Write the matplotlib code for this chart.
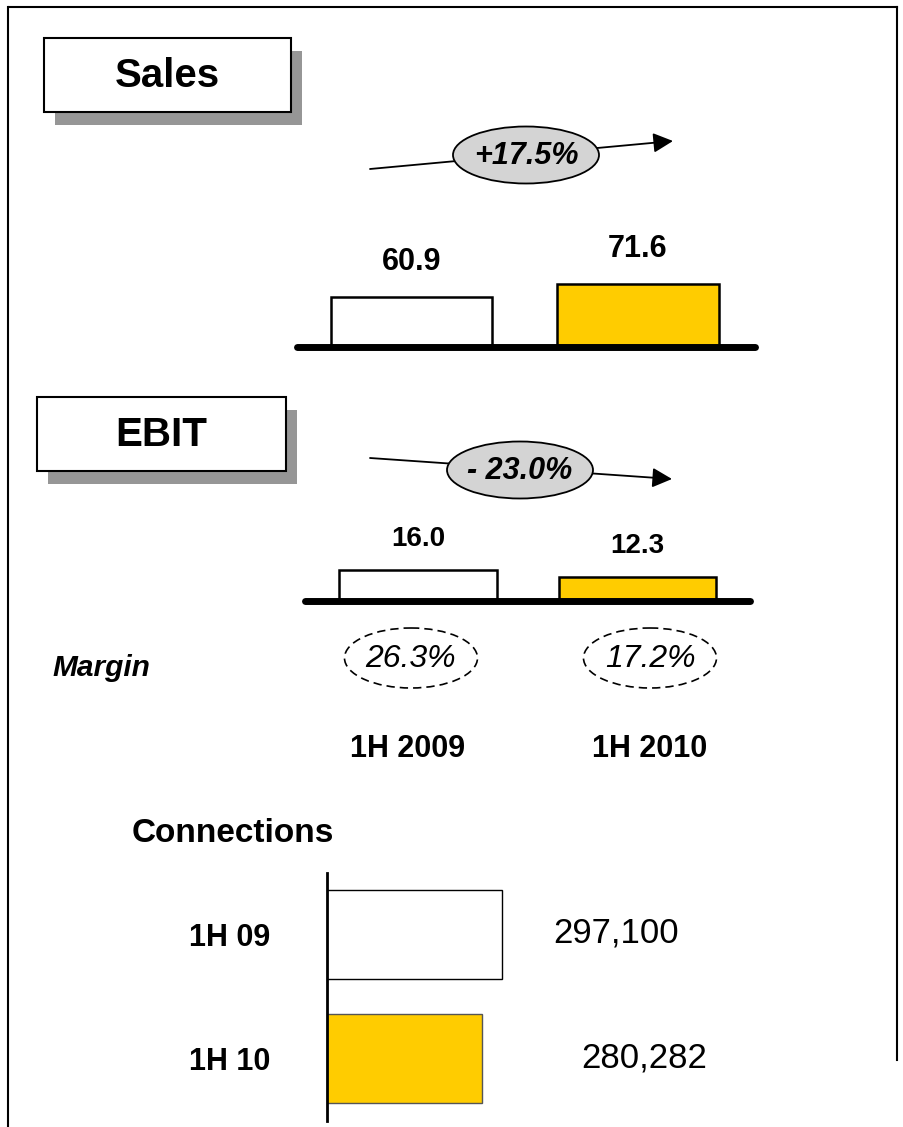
import matplotlib.pyplot as plt
from matplotlib.patches import Rectangle, Ellipse

W, H = 904, 1127

periods = ["1H 2009", "1H 2010"]
sales = [60.9, 71.6]
ebit = [16.0, 12.3]
sales_change = "+17.5%"
ebit_change = "- 23.0%"
margins = ["26.3%", "17.2%"]
conn_labels = ["1H 09", "1H 10"]
connections = [297100, 280282]
fills = ["white", "#FFCC00"]

plt.rcParams['font.family'] = ['Liberation Sans', 'DejaVu Sans']
fig = plt.figure(figsize=(W / 100, H / 100), dpi=100)


def rect(x0, y0, x1, y1):
    # pixel box -> figure fraction
    return [x0 / W, 1 - y1 / H, (x1 - x0) / W, (y1 - y0) / H]


# background layer in pixel coordinates for the boxes, arrows, ellipses
bg = fig.add_axes([0, 0, 1, 1])
bg.set_xlim(0, W)
bg.set_ylim(H, 0)
bg.axis("off")

# frame
bg.plot([9, 897], [7, 7], color="black", lw=1.5)
bg.plot([8, 8], [7, H], color="black", lw=1.5)
bg.plot([897, 897], [7, 1060], color="black", lw=1.5)


def title_box(x0, y0, x1, y1, text):
    bg.add_patch(Rectangle((x0 + 11, y0 + 13), x1 - x0, y1 - y0, color="#969696", lw=0))
    bg.add_patch(Rectangle((x0, y0), x1 - x0, y1 - y0, facecolor="white", edgecolor="black", lw=1.5))
    bg.text((x0 + x1) / 2, (y0 + y1) / 2 + 1, text, ha="center", va="center",
            fontsize=29, fontweight="bold")


title_box(44, 38, 291, 112, "Sales")
title_box(37, 397, 286, 471, "EBIT")


def change_arrow(start, tip, center, text):
    bg.annotate("", xy=tip, xytext=start,
                arrowprops=dict(arrowstyle="-|>,head_length=0.6,head_width=0.3",
                                color="black", lw=1.3, shrinkA=0, shrinkB=0,
                                mutation_scale=20))
    bg.add_patch(Ellipse(center, 146, 57, facecolor="#D4D4D4", edgecolor="black", lw=1.3, zorder=3))
    bg.text(center[0], center[1] + 1, text, ha="center", va="center", fontsize=22,
            fontweight="bold", fontstyle="italic", zorder=4)


change_arrow((370, 169), (673, 141), (526, 155), sales_change)
change_arrow((370, 458), (672, 479), (520, 470), ebit_change)

# margins
bg.text(52, 668, "Margin", ha="left", va="center", fontsize=21.5, fontweight="bold", fontstyle="italic")
for cx, m in zip([411, 650], margins):
    bg.add_patch(Ellipse((cx, 658), 133, 60, facecolor="none", edgecolor="black",
                         lw=1.2, linestyle=(0, (5, 3))))
    bg.text(cx, 659, m, ha="center", va="center", fontsize=23, fontstyle="italic")

for cx, p in zip([408, 650], periods):
    bg.text(cx, 749, p, ha="center", va="center", fontsize=22, fontweight="bold")

bg.text(132, 833, "Connections", ha="left", va="center", fontsize=24, fontweight="bold")


def bar_panel(box, vals, ylim, xlim, width, offset, fs):
    ax = fig.add_axes(rect(*box))
    ax.patch.set_alpha(0)
    ax.bar(range(len(vals)), vals, width=width, color=fills, edgecolor="black", linewidth=1.8)
    ax.set_xlim(xlim)
    ax.set_ylim(ylim)
    for s in ["top", "right", "left"]:
        ax.spines[s].set_visible(False)
    ax.spines["bottom"].set_linewidth(5)
    ax.spines["bottom"].set_capstyle("round")
    ax.set_xticks([])
    ax.set_yticks([])
    for i, v in enumerate(vals):
        ax.annotate(f"{v:.1f}", (i, v), xytext=(0, offset), textcoords="offset pixels",
                    ha="center", va="center", fontsize=fs, fontweight="bold")
    return ax


bar_panel((297, 230, 755, 346.5), sales, (19, 117), (-0.5055, 1.5166), 0.711, 35, 22)
bar_panel((305, 520, 750, 600.7), ebit, (0, 42.5), (-0.515, 1.5125), 0.718, 31, 20)

# connections, horizontal bars
ax = fig.add_axes(rect(327, 873, 800, 1121))
ax.patch.set_alpha(0)
ax.barh(range(len(connections)), connections, height=0.71, color=fills,
        edgecolor=["black", "#555555"], linewidth=1)
ax.set_ylim(1.504, -0.496)
ax.set_xlim(149950, 149950 + 473 / 0.001189)
for s in ["top", "right", "bottom"]:
    ax.spines[s].set_visible(False)
ax.spines["left"].set_linewidth(2)
ax.set_xticks([])
ax.set_yticks(range(len(conn_labels)), conn_labels, fontsize=22, fontweight="bold")
ax.tick_params(axis="y", length=0, pad=41)

for cx, cy, v in zip([616, 644], [933, 1058], connections):
    bg.text(cx, cy, f"{v:,}", ha="center", va="center", fontsize=25)

fig.savefig("out.png", dpi=100)
